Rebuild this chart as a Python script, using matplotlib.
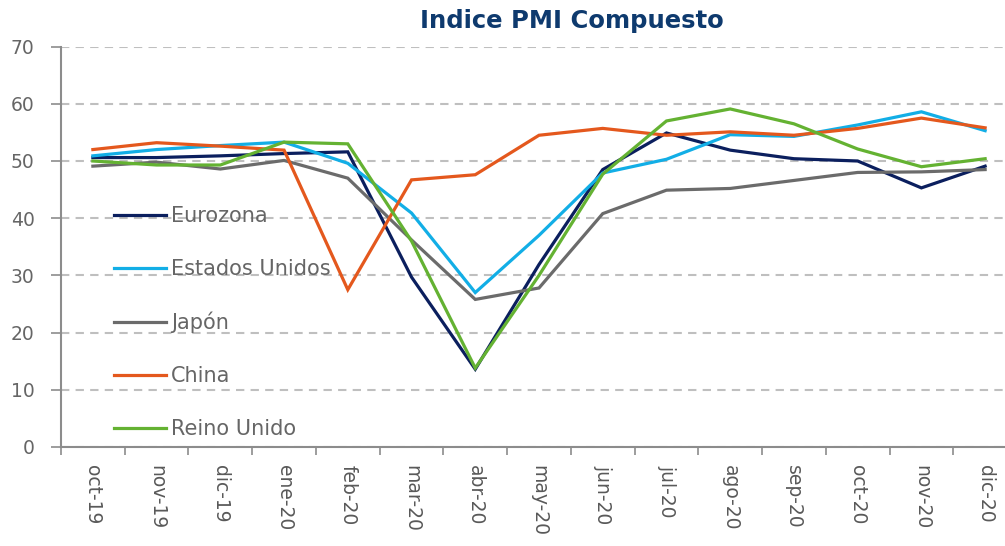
import matplotlib
matplotlib.use("Agg")
import matplotlib.pyplot as plt
from matplotlib.ticker import FixedLocator

months = ["oct-19", "nov-19", "dic-19", "ene-20", "feb-20", "mar-20", "abr-20", "may-20",
          "jun-20", "jul-20", "ago-20", "sep-20", "oct-20", "nov-20", "dic-20"]
eurozona = [50.6, 50.6, 50.9, 51.3, 51.6, 29.7, 13.6, 31.9, 48.5, 54.9, 51.9, 50.4, 50.0, 45.3, 49.1]
estados_unidos = [50.9, 52.0, 52.7, 53.3, 49.6, 40.9, 27.0, 37.0, 47.9, 50.3, 54.6, 54.3, 56.3, 58.6, 55.3]
japon = [49.1, 49.8, 48.6, 50.1, 47.0, 36.2, 25.8, 27.8, 40.8, 44.9, 45.2, 46.6, 48.0, 48.1, 48.5]
china = [52.0, 53.2, 52.6, 51.9, 27.5, 46.7, 47.6, 54.5, 55.7, 54.5, 55.1, 54.5, 55.7, 57.5, 55.8]
reino_unido = [50.0, 49.3, 49.3, 53.3, 53.0, 36.0, 13.8, 30.0, 47.7, 57.0, 59.1, 56.5, 52.1, 49.0, 50.4]

series = [("Eurozona", eurozona, "#0b1f5e"),
          ("Estados Unidos", estados_unidos, "#12aee6"),
          ("Japón", japon, "#6b6b6b"),
          ("China", china, "#e4581d"),
          ("Reino Unido", reino_unido, "#64b232")]

plt.rcParams['font.family'] = ['DejaVu Sans']
fig = plt.figure(figsize=(10.05, 5.46), dpi=100)
ax = fig.add_axes([61/1005, 99/546, 956/1005, 400.4/546])

x = list(range(len(months)))
for name, vals, col in series:
    ax.plot(x, vals, color=col, lw=2.3, label=name, solid_joinstyle='miter')

ax.set_xlim(-0.5, len(months) - 0.5)
ax.set_ylim(0, 70)
ax.set_yticks(range(0, 71, 10))
ax.yaxis.grid(True, color="#bfbfbf", linestyle=(0, (4, 3)), lw=1.5)
ax.set_axisbelow(True)

ax.set_xticks(x)
ax.set_xticklabels(months, rotation=-90, fontsize=13.5, color="#595959")
ax.tick_params(axis='x', length=0, pad=13)
ax.xaxis.set_minor_locator(FixedLocator([i - 0.5 for i in range(len(months) + 1)]))
ax.tick_params(axis='x', which='minor', length=6, width=1.2, color="#8c8c8c")
ax.tick_params(axis='y', length=7, width=1.2, color="#8c8c8c", labelsize=13.5,
               labelcolor="#666666", pad=12)

for s in ["top", "right"]:
    ax.spines[s].set_visible(False)
for s in ["left", "bottom"]:
    ax.spines[s].set_color("#8c8c8c")
    ax.spines[s].set_linewidth(1.5)

leg = ax.legend(loc="upper left", bbox_to_anchor=(0.0554, 0.602), frameon=False,
                fontsize=15, handlelength=2.5, handletextpad=0.25, labelspacing=1.58,
                borderpad=0, borderaxespad=0)
for t in leg.get_texts():
    t.set_color("#666666")

fig.text(572/1005, 1 - 21/546, "Indice PMI Compuesto", ha="center", va="center",
         fontsize=17.5, fontweight="bold", color="#0e3a6e")

fig.savefig("out.png", dpi=100)
